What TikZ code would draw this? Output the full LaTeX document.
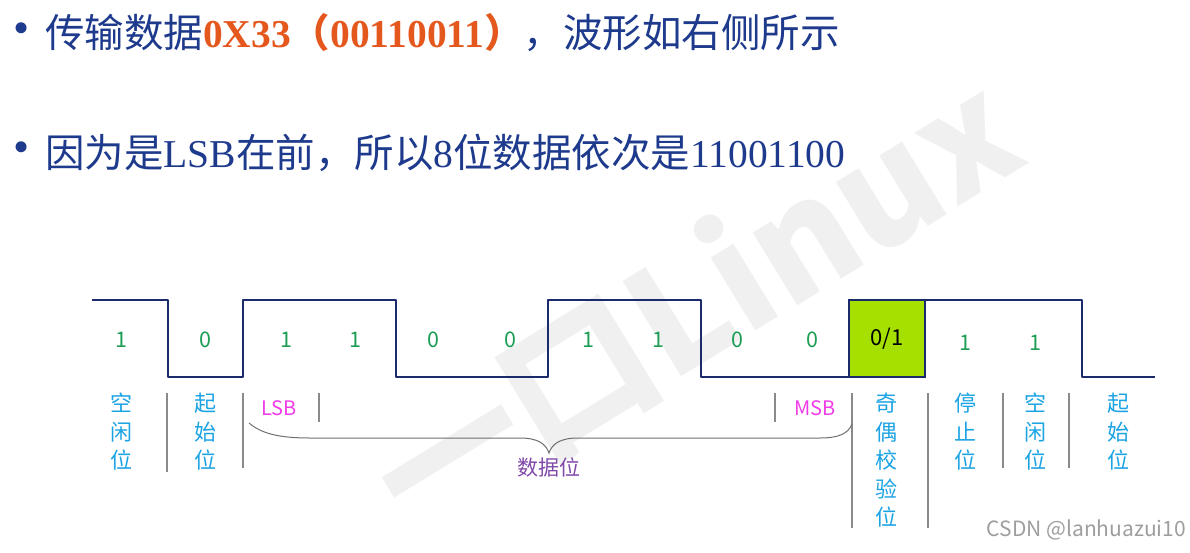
\documentclass[tikz,border=0pt]{standalone}
\usepackage{fontspec}
\setmainfont{Liberation Serif}
\newfontfamily\cjk{Noto Sans CJK SC}
\definecolor{wavec}{HTML}{1B2A6B}
\definecolor{titlec}{HTML}{1E3A8C}
\definecolor{orangec}{HTML}{E4581E}
\definecolor{bitc}{HTML}{1E9E55}
\definecolor{labc}{HTML}{1BA3E3}
\definecolor{lsbc}{HTML}{F03CE8}
\definecolor{purplec}{HTML}{8048A8}
\definecolor{limec}{HTML}{A6E000}
\definecolor{sepc}{HTML}{8A8A8A}
\begin{document}
\begin{tikzpicture}[x=1pt,y=-1pt,
  wave/.style={draw=wavec,line width=2.6pt,line join=round},
  bit/.style={text=bitc,font=\cjk\fontsize{21.5}{21.5}\selectfont,inner sep=0pt},
  lab/.style={text=labc,font=\cjk\fontsize{22}{28.5}\selectfont,align=center,anchor=north,inner sep=0pt},
  sep/.style={draw=sepc,line width=1.2pt},
  msb/.style={text=lsbc,font=\cjk\fontsize{20}{20}\selectfont,inner sep=0pt},
  bul/.style={text=titlec,font=\fontsize{46}{46}\selectfont,inner sep=0pt},
  title/.style={text=titlec,font=\fontsize{39.5}{39.5}\selectfont,anchor=base west,inner sep=0pt}]
\useasboundingbox (0,0) rectangle (1190,552);
% watermark
\node[text=black!6,font=\cjk\bfseries\fontsize{150}{150}\selectfont,rotate=31.5,inner sep=0pt] (wm) at (694,303) {一口Linux};
% title lines
\node[bul] (b1) at (22,33) {•};
\node[title] (t1) at (45,47) {\cjk 传输数据\textcolor{orangec}{\rmfamily\bfseries 0X33\cjk（\rmfamily\bfseries 00110011\cjk）}\cjk ，波形如右侧所示};
\node[bul] (b2) at (22,152) {•};
\node[title] (t2) at (45,167) {\cjk 因为是\rmfamily LSB\cjk 在前，所以\rmfamily 8\cjk 位数据依次是\rmfamily 11001100};
% parity box
\node[draw=wavec,line width=2.6pt,fill=limec,minimum width=76pt,minimum height=77pt,inner sep=0pt,font=\cjk\fontsize{22}{22}\selectfont] (par) at (887,338.5) {0/1};
% waveform
\coordinate (w0) at (92,300);
\coordinate (w1) at (1155,377);
\draw[wave] (w0) -- (168,300) -- (168,377) -- (243,377) -- (243,300) -- (396,300) -- (396,377) -- (548,377) -- (548,300) -- (701,300) -- (701,377) -- (849,377) -- (849,300) -- (1082,300) -- (1082,377) -- (w1);
% bits
\node[bit] (d1) at (121,340) {1};
\node[bit] (d2) at (205,340) {0};
\node[bit] (d3) at (286,340) {1};
\node[bit] (d4) at (355,340) {1};
\node[bit] (d5) at (433,340) {0};
\node[bit] (d6) at (510,340) {0};
\node[bit] (d7) at (588,340) {1};
\node[bit] (d8) at (658,340) {1};
\node[bit] (d9) at (737,340) {0};
\node[bit] (d10) at (812,340) {0};
\node[bit] (d11) at (965,343) {1};
\node[bit] (d12) at (1035,343) {1};
% separators
\draw[sep] (167,393) -- (167,472);
\draw[sep] (243,393) -- (243,468);
\draw[sep] (319,393) -- (319,422);
\draw[sep] (775,393) -- (775,422);
\draw[sep] (852,393) -- (852,528);
\draw[sep] (928,393) -- (928,528);
\draw[sep] (1003,393) -- (1003,468);
\draw[sep] (1069,393) -- (1069,468);
% labels
\node[lab] (l1) at (121,393) {空\\闲\\位};
\node[lab] (l2) at (205,393) {起\\始\\位};
\node[msb] (lsb) at (279,408) {LSB};
\node[msb] (msbn) at (815,408) {MSB};
\node[lab] (l3) at (886,393) {奇\\偶\\校\\验\\位};
\node[lab] (l4) at (965,393) {停\\止\\位};
\node[lab] (l5) at (1035,393) {空\\闲\\位};
\node[lab] (l6) at (1118,393) {起\\始\\位};
% brace
\draw[sepc!80!black,line width=1pt] (249,423) .. controls (262,434) and (280,438) .. (310,438) -- (520,438) .. controls (538,438) and (546,444) .. (549,453) .. controls (552,444) and (560,438) .. (578,438) -- (820,438) .. controls (838,438) and (848,434) .. (852,424);
\node[text=purplec,font=\cjk\fontsize{21}{21}\selectfont,inner sep=0pt] (data) at (549,467) {数据位};
% csdn
\node[text=black!38,font=\cjk\fontsize{21}{21}\selectfont,anchor=east,inner sep=0pt] (csdn) at (1186,530) {CSDN @lanhuazui10};
\end{tikzpicture}
\end{document}
